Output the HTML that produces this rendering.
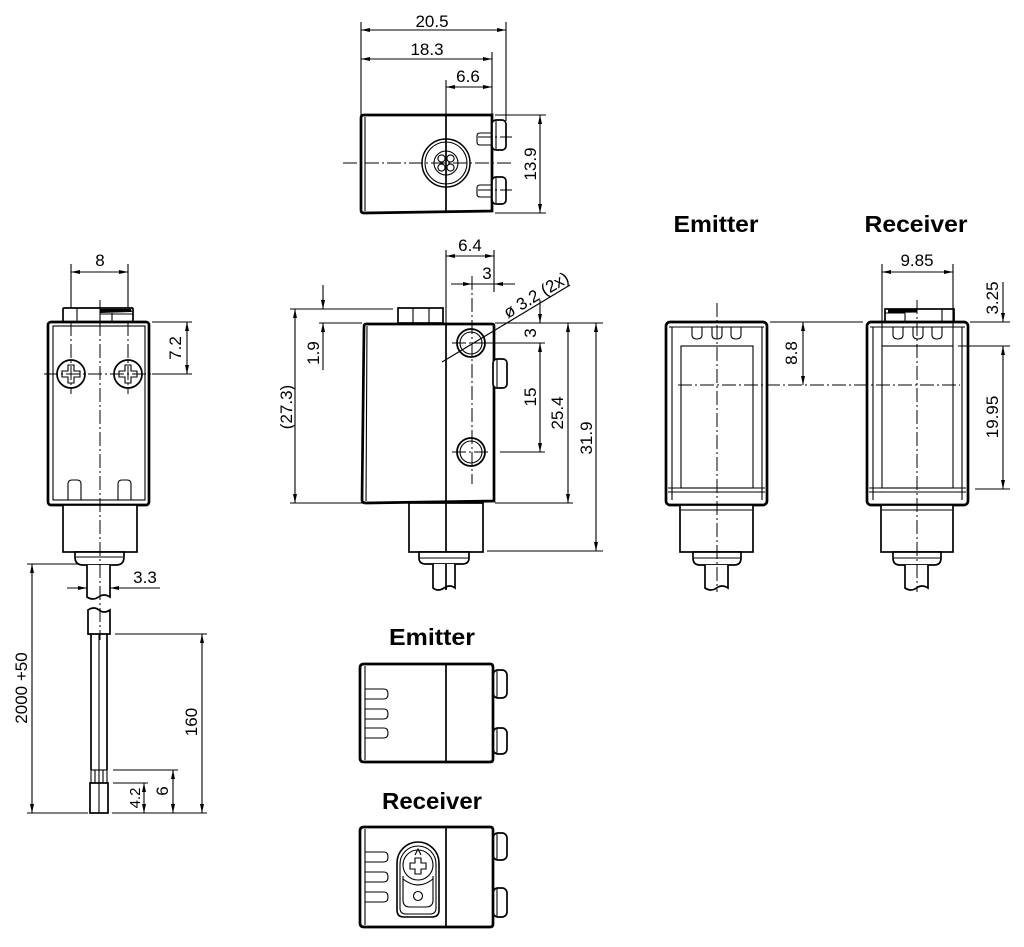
<!DOCTYPE html>
<html><head><meta charset="utf-8"><style>
html,body{margin:0;padding:0;background:#fff}
svg{display:block}
.t{stroke:#000;stroke-width:1.1;fill:none}
.tw{stroke:#000;stroke-width:1.1;fill:#fff}
.m{stroke:#000;stroke-width:1.7;fill:#fff}
.mn{stroke:#000;stroke-width:1.7;fill:none}
.k{stroke:#000;stroke-width:2.7;fill:none}
.c{stroke:#000;stroke-width:1;fill:none;stroke-dasharray:14 3 2 3}
.d{stroke:#000;stroke-width:1.1;fill:none;marker-start:url(#a);marker-end:url(#a)}
.e{stroke:#000;stroke-width:1.1;fill:none;marker-end:url(#a)}
text{font-family:"Liberation Sans",Arial,sans-serif;font-size:17px;fill:#000}
.b{font-weight:bold;font-size:23px}
</style></head><body>
<svg width="1024" height="947" viewBox="0 0 1024 947" xmlns="http://www.w3.org/2000/svg">
<defs>
<marker id="a" viewBox="0 0 9 4" refX="9" refY="2" markerWidth="9" markerHeight="4" markerUnits="userSpaceOnUse" orient="auto-start-reverse"><path d="M0,0 L9,2 L0,4 z" fill="#000"/></marker>
</defs>
<rect x="0" y="0" width="1024" height="947" fill="#fff"/>

<!-- ================= TOP VIEW ================= -->
<line class="t" x1="361" y1="22" x2="361" y2="115"/>
<line class="t" x1="506" y1="22" x2="506" y2="121"/>
<line class="t" x1="492" y1="52" x2="492" y2="115"/>
<line class="t" x1="446" y1="80" x2="446" y2="115"/>
<line class="d" x1="361" y1="30" x2="506" y2="30"/>
<line class="d" x1="361" y1="59" x2="492" y2="59"/>
<line class="d" x1="446" y1="87" x2="492" y2="87"/>
<text x="432" y="27" text-anchor="middle">20.5</text>
<text x="427" y="55" text-anchor="middle">18.3</text>
<text x="468" y="82" text-anchor="middle">6.6</text>
<path class="k" d="M364,115 H492 V211 L364,213 Q361,213 361,210 V118 Q361,115 364,115 Z"/>
<line class="t" x1="365" y1="117" x2="365" y2="211"/>
<line class="mn" x1="446" y1="115" x2="446" y2="213"/>
<circle cx="446" cy="163" r="24" fill="none" stroke="#000" stroke-width="1.5"/>
<circle class="t" cx="446" cy="163" r="21"/>
<circle class="t" cx="446" cy="163" r="12"/>
<circle class="t" cx="441.5" cy="158.5" r="3.6"/>
<circle class="t" cx="450.5" cy="158.5" r="3.6"/>
<circle class="t" cx="441.5" cy="167.5" r="3.6"/>
<circle class="t" cx="450.5" cy="167.5" r="3.6"/>
<path class="t" d="M492,133 H480 Q477,133 477,136 V142 Q477,145 480,145 H492"/>
<path class="t" d="M492,185 H480 Q477,185 477,188 V194 Q477,197 480,197 H492"/>
<rect class="m" x="492" y="120" width="14" height="30" rx="4"/>
<line class="t" x1="496" y1="121" x2="496" y2="149"/>
<rect class="m" x="492" y="177" width="14" height="27" rx="4"/>
<line class="t" x1="496" y1="178" x2="496" y2="203"/>
<line class="c" x1="478" y1="137" x2="512" y2="137"/>
<line class="c" x1="478" y1="190" x2="512" y2="190"/>
<line class="t" x1="495" y1="115" x2="546" y2="115"/>
<line class="t" x1="495" y1="213" x2="546" y2="213"/>
<line class="d" x1="540" y1="115" x2="540" y2="213"/>
<text transform="translate(536,164) rotate(-90)" text-anchor="middle">13.9</text>
<line class="c" x1="343" y1="163" x2="512" y2="163"/>
<line class="c" x1="446" y1="130" x2="446" y2="200"/>

<!-- ================= LEFT VIEW ================= -->
<line class="t" x1="71" y1="264" x2="71" y2="308"/>
<line class="t" x1="128" y1="264" x2="128" y2="308"/>
<line class="d" x1="71" y1="272" x2="128" y2="272"/>
<text x="100" y="266" text-anchor="middle">8</text>
<rect class="m" x="63" y="308" width="70" height="14" rx="1"/>
<line class="t" x1="77" y1="308" x2="77" y2="322"/>
<line class="t" x1="100" y1="308" x2="100" y2="322"/>
<line class="t" x1="112" y1="313" x2="112" y2="322"/>
<line class="t" x1="100" y1="314" x2="133" y2="314"/>
<path d="M100,309 L131,309 L132,312 L100,313 Z" fill="#000"/>
<rect class="k" x="48" y="322" width="101" height="183" rx="3"/>
<rect class="t" x="53" y="326" width="92" height="174"/>
<circle class="m" cx="71" cy="374" r="14"/>
<path class="t" d="M68,365 h6 v6 h6 v6 h-6 v6 h-6 v-6 h-6 v-6 h6 z"/>
<circle class="m" cx="128" cy="374" r="14"/>
<path class="t" d="M125,365 h6 v6 h6 v6 h-6 v6 h-6 v-6 h-6 v-6 h6 z"/>
<path class="t" d="M68,500 V484 Q68,480 72,480 H77 Q81,480 81,484 V500"/>
<path class="t" d="M118,500 V484 Q118,480 122,480 H127 Q131,480 131,484 V500"/>
<rect class="m" x="63" y="505" width="74" height="47"/>
<path class="m" d="M75,552 V557 Q75,565 83,565 H116 Q124,565 124,557 V552 Z"/>
<line class="t" x1="76" y1="557" x2="123" y2="557"/>
<path class="m" d="M87,565 V597 Q93,601 98.5,597 Q104,593 110,597 V565"/>
<path class="m" d="M88,610 Q94,606 99,610 Q104,614 110,610 V634 H88 Z"/>
<line class="mn" x1="91" y1="634" x2="91" y2="770"/>
<line class="t" x1="99" y1="634" x2="99" y2="770"/>
<line class="mn" x1="107" y1="634" x2="107" y2="770"/>
<rect class="t" x="91" y="770" width="16" height="13"/>
<line class="t" x1="95" y1="770" x2="95" y2="783"/>
<line class="t" x1="99" y1="770" x2="99" y2="783"/>
<line class="t" x1="103" y1="770" x2="103" y2="783"/>
<rect class="m" x="90" y="783" width="18" height="30"/>
<line class="t" x1="99" y1="783" x2="99" y2="813"/>
<line class="c" x1="71" y1="322" x2="71" y2="394"/>
<line class="c" x1="128" y1="322" x2="128" y2="394"/>
<line class="c" x1="44" y1="374" x2="152" y2="374"/>
<line class="c" x1="100" y1="300" x2="100" y2="640"/>
<!-- dims left -->
<line class="t" x1="152" y1="322" x2="192" y2="322"/>
<line class="t" x1="152" y1="374" x2="192" y2="374"/>
<line class="d" x1="187" y1="322" x2="187" y2="374"/>
<text transform="translate(181,348) rotate(-90)" text-anchor="middle">7.2</text>
<line class="e" x1="67" y1="588" x2="87" y2="588"/>
<line class="e" x1="160" y1="588" x2="110" y2="588"/>
<text x="145" y="583" text-anchor="middle">3.3</text>
<line class="t" x1="27" y1="564" x2="80" y2="564"/>
<line class="d" x1="32" y1="564" x2="32" y2="813"/>
<text transform="translate(27,688) rotate(-90)" text-anchor="middle">2000 +50</text>
<line class="t" x1="115" y1="634" x2="207" y2="634"/>
<line class="d" x1="202" y1="634" x2="202" y2="813"/>
<text transform="translate(197,722) rotate(-90)" text-anchor="middle">160</text>
<line class="t" x1="113" y1="770" x2="178" y2="770"/>
<line class="d" x1="173" y1="770" x2="173" y2="813"/>
<text transform="translate(168,791) rotate(-90)" text-anchor="middle">6</text>
<line class="t" x1="113" y1="783" x2="148" y2="783"/>
<line class="d" x1="144" y1="783" x2="144" y2="813"/>
<text transform="translate(140,798) rotate(-90)" text-anchor="middle" style="font-size:15px">4.2</text>
<line class="t" x1="27" y1="813" x2="88" y2="813"/>
<line class="t" x1="112" y1="813" x2="207" y2="813"/>

<!-- ================= CENTER SIDE VIEW ================= -->
<line class="t" x1="446" y1="250" x2="446" y2="324"/>
<line class="t" x1="494" y1="250" x2="494" y2="292"/>
<line class="d" x1="446" y1="256" x2="494" y2="256"/>
<text x="470" y="251" text-anchor="middle">6.4</text>
<line class="e" x1="451" y1="284" x2="472" y2="284"/>
<line class="e" x1="515" y1="284" x2="494" y2="284"/>
<line class="t" x1="472" y1="284" x2="494" y2="284"/>
<text x="487" y="279" text-anchor="middle">3</text>
<rect class="m" x="398" y="308" width="45" height="15"/>
<line class="t" x1="413" y1="308" x2="413" y2="323"/>
<line class="t" x1="429" y1="308" x2="429" y2="323"/>
<path class="k" d="M366,324 H492 Q494,324 494,326 V501 L366,503 Q362,503 362,500 L364,327 Q364,324 366,324 Z"/>
<line class="t" x1="367" y1="326" x2="366" y2="501"/>
<line class="mn" x1="446" y1="324" x2="446" y2="590"/>
<circle cx="471" cy="343" r="14" fill="#fff" stroke="#000" stroke-width="1.8"/>
<circle class="t" cx="471" cy="343" r="11"/>
<circle cx="471" cy="452" r="14" fill="#fff" stroke="#000" stroke-width="1.8"/>
<circle class="t" cx="471" cy="452" r="11"/>
<rect class="m" x="493" y="359" width="14" height="29" rx="4"/>
<line class="t" x1="497" y1="360" x2="497" y2="387"/>
<rect class="m" x="409" y="503" width="74" height="49"/>
<line class="mn" x1="446" y1="503" x2="446" y2="552"/>
<path class="m" d="M419,552 V558 Q419,564 426,564 H462 Q469,564 469,558 V552 Z"/>
<line class="t" x1="420" y1="558" x2="468" y2="558"/>
<path class="m" d="M433,564 V588 Q438,592 444,588 Q450,584 455,588 V564"/>
<line class="mn" x1="446" y1="564" x2="446" y2="589"/>
<line class="c" x1="472" y1="276" x2="472" y2="484"/>
<line class="c" x1="452" y1="343" x2="490" y2="343"/>
<line class="c" x1="452" y1="452" x2="490" y2="452"/>
<line class="t" x1="442" y1="362" x2="570" y2="285"/>
<text transform="translate(539,300) rotate(-31)" text-anchor="middle">ø 3.2 (2x)</text>
<!-- left dims -->
<line class="t" x1="290" y1="309" x2="393" y2="309"/>
<line class="t" x1="290" y1="503" x2="362" y2="503"/>
<line class="d" x1="295" y1="309" x2="295" y2="503"/>
<text transform="translate(292,407) rotate(-90)" text-anchor="middle">(27.3)</text>
<line class="e" x1="323" y1="285" x2="323" y2="309"/>
<line class="e" x1="323" y1="370" x2="323" y2="323"/>
<line class="t" x1="319" y1="323" x2="362" y2="323"/>
<text transform="translate(319,353) rotate(-90)" text-anchor="middle">1.9</text>
<!-- right dims -->
<line class="t" x1="495" y1="323" x2="603" y2="323"/>
<line class="t" x1="488" y1="343" x2="545" y2="343"/>
<line class="t" x1="500" y1="452" x2="545" y2="452"/>
<line class="t" x1="495" y1="503" x2="573" y2="503"/>
<line class="t" x1="487" y1="551" x2="603" y2="551"/>
<line class="e" x1="540" y1="300" x2="540" y2="323"/>
<line class="d" x1="540" y1="343" x2="540" y2="452"/>
<text transform="translate(536,333) rotate(-90)" text-anchor="middle">3</text>
<text transform="translate(536,397) rotate(-90)" text-anchor="middle">15</text>
<line class="d" x1="568" y1="323" x2="568" y2="503"/>
<text transform="translate(563,413) rotate(-90)" text-anchor="middle">25.4</text>
<line class="d" x1="596" y1="323" x2="596" y2="551"/>
<text transform="translate(592,438) rotate(-90)" text-anchor="middle">31.9</text>

<!-- ================= EMITTER FRONT ================= -->
<text class="b" x="716" y="232" text-anchor="middle" textLength="85" lengthAdjust="spacingAndGlyphs">Emitter</text>
<rect class="k" x="666" y="322" width="101" height="183" rx="4"/>
<line class="t" x1="672" y1="327" x2="672" y2="500"/>
<line class="t" x1="762" y1="327" x2="762" y2="500"/>
<line class="t" x1="669" y1="327" x2="764" y2="327"/>
<line class="t" x1="668" y1="492" x2="765" y2="492"/>
<line class="t" x1="668" y1="488" x2="765" y2="488"/>
<rect class="t" x="681" y="346" width="72" height="142"/>
<path class="t" d="M692,327 V335 Q692,339 697,339 Q702,339 702,335 V327"/>
<path class="t" d="M712,327 V335 Q712,339 717,339 Q722,339 722,335 V327"/>
<path class="t" d="M731,327 V335 Q731,339 736,339 Q741,339 741,335 V327"/>
<rect class="m" x="680" y="505" width="73" height="47"/>
<line class="t" x1="681" y1="510" x2="752" y2="510"/>
<path class="m" d="M693,552 V558 Q693,565 700,565 H734 Q741,565 741,558 V552 Z"/>
<line class="t" x1="694" y1="558" x2="740" y2="558"/>
<path class="m" d="M705,565 V588 Q711,592 716.5,588 Q722,584 728,588 V565"/>
<line class="c" x1="717" y1="303" x2="717" y2="592"/>
<!-- 8.8 -->
<line class="t" x1="770" y1="322" x2="863" y2="322"/>
<line class="d" x1="803" y1="322" x2="803" y2="385"/>
<text transform="translate(797,353) rotate(-90)" text-anchor="middle">8.8</text>

<!-- ================= RECEIVER FRONT ================= -->
<text class="b" x="916" y="232" text-anchor="middle" textLength="103" lengthAdjust="spacingAndGlyphs">Receiver</text>
<rect class="m" x="885" y="309" width="69" height="13"/>
<line class="t" x1="905" y1="313" x2="905" y2="322"/>
<line class="t" x1="942" y1="309" x2="942" y2="322"/>
<line class="t" x1="885" y1="313" x2="905" y2="313"/>
<path d="M888,309.5 L917,309 L917,312.5 L888,313 Z" fill="#000"/>
<rect class="k" x="867" y="322" width="101" height="183" rx="4"/>
<line class="t" x1="873" y1="327" x2="873" y2="500"/>
<line class="t" x1="962" y1="327" x2="962" y2="500"/>
<line class="t" x1="870" y1="327" x2="965" y2="327"/>
<line class="t" x1="869" y1="492" x2="966" y2="492"/>
<line class="t" x1="869" y1="488" x2="966" y2="488"/>
<rect class="t" x="882" y="346" width="71" height="142"/>
<path class="t" d="M893,327 V335 Q893,339 898,339 Q903,339 903,335 V327"/>
<path class="t" d="M913,327 V335 Q913,339 918,339 Q923,339 923,335 V327"/>
<path class="t" d="M932,327 V335 Q932,339 937,339 Q942,339 942,335 V327"/>
<rect class="m" x="881" y="505" width="72" height="47"/>
<line class="t" x1="882" y1="510" x2="952" y2="510"/>
<path class="m" d="M893,552 V558 Q893,565 900,565 H934 Q941,565 941,558 V552 Z"/>
<line class="t" x1="894" y1="558" x2="940" y2="558"/>
<path class="m" d="M905,565 V588 Q911,592 916.5,588 Q922,584 928,588 V565"/>
<line class="c" x1="917" y1="300" x2="917" y2="592"/>
<line class="c" x1="678" y1="385" x2="960" y2="385"/>
<!-- 9.85 -->
<line class="t" x1="882" y1="264" x2="882" y2="346"/>
<line class="t" x1="953" y1="264" x2="953" y2="346"/>
<line class="d" x1="882" y1="272" x2="953" y2="272"/>
<text x="917" y="266" text-anchor="middle">9.85</text>
<!-- 3.25 / 19.95 -->
<line class="t" x1="970" y1="322" x2="1010" y2="322"/>
<line class="t" x1="958" y1="346" x2="1010" y2="346"/>
<line class="t" x1="975" y1="489" x2="1010" y2="489"/>
<line class="e" x1="1003" y1="282" x2="1003" y2="322"/>
<line class="d" x1="1003" y1="346" x2="1003" y2="489"/>
<text transform="translate(998,298) rotate(-90)" text-anchor="middle">3.25</text>
<text transform="translate(998,417) rotate(-90)" text-anchor="middle">19.95</text>

<!-- ================= BOTTOM EMITTER ================= -->
<text class="b" x="432" y="645" text-anchor="middle" textLength="86" lengthAdjust="spacingAndGlyphs">Emitter</text>
<rect class="m" x="493" y="670" width="14" height="28" rx="5"/>
<line class="t" x1="497" y1="671" x2="497" y2="697"/>
<rect class="m" x="493" y="728" width="14" height="26" rx="5"/>
<line class="t" x1="497" y1="729" x2="497" y2="753"/>
<path class="k" d="M364,664 H490 Q493,664 493,667 V759 Q493,762 490,762 H364 Q360,762 360,758 V668 Q360,664 364,664 Z"/>
<line class="t" x1="365" y1="666" x2="365" y2="760"/>
<line class="mn" x1="446" y1="664" x2="446" y2="762"/>
<path class="t" d="M365,689 H384 Q388,689 388,694 Q388,699 384,699 H365"/>
<path class="t" d="M365,709 H384 Q388,709 388,714 Q388,719 384,719 H365"/>
<path class="t" d="M365,728 H384 Q388,728 388,733 Q388,738 384,738 H365"/>

<!-- ================= BOTTOM RECEIVER ================= -->
<text class="b" x="432" y="809" text-anchor="middle" textLength="100" lengthAdjust="spacingAndGlyphs">Receiver</text>
<rect class="m" x="493" y="833" width="14" height="27" rx="5"/>
<line class="t" x1="497" y1="834" x2="497" y2="859"/>
<rect class="m" x="493" y="888" width="14" height="29" rx="5"/>
<line class="t" x1="497" y1="889" x2="497" y2="916"/>
<path class="k" d="M364,827 H490 Q493,827 493,830 V924 Q493,927 490,927 H364 Q360,927 360,923 V831 Q360,827 364,827 Z"/>
<line class="t" x1="365" y1="829" x2="365" y2="925"/>
<line class="mn" x1="446" y1="827" x2="446" y2="927"/>
<path class="t" d="M365,852 H384 Q388,852 388,857 Q388,862 384,862 H365"/>
<path class="t" d="M365,872 H384 Q388,872 388,877 Q388,882 384,882 H365"/>
<path class="t" d="M365,892 H384 Q388,892 388,897 Q388,902 384,902 H365"/>
<path d="M397,863 A21,21 0 0 1 439,863 V910 Q439,917 432,917 H404 Q397,917 397,910 Z" fill="none" stroke="#000" stroke-width="1.6"/>
<path class="t" d="M400,864 A18,18 0 0 1 436,864 V908 Q436,914 430,914 H406 Q400,914 400,908 Z"/>
<circle class="t" cx="418" cy="865" r="15"/>
<path class="t" d="M415,858 h6 v5 h5 v6 h-5 v5 h-6 v-5 h-5 v-6 h5 z"/>
<path class="t" d="M415,855 L418,849 L421,855"/>
<path class="t" d="M403,876 V900 Q403,907 410,907 H426 Q433,907 433,900 V876"/>
<path class="t" d="M403,879 Q418,891 433,879"/>
<circle class="t" cx="418" cy="896" r="4.5"/>
</svg>
</body></html>
